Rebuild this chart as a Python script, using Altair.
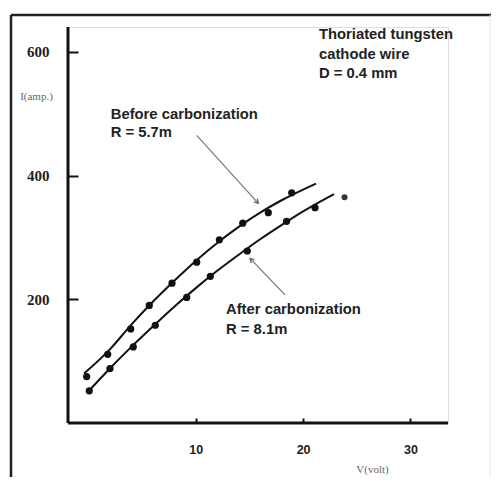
import altair as alt
import pandas as pd

# ---- data ----
before_v = [-0.16, 1.80, 3.94, 5.67, 7.79, 10.09, 12.2, 14.38, 16.76, 18.94]
before_i = [75, 111, 152, 190, 226, 260, 296, 323, 340, 372]
after_v = [0.08, 2.01, 4.18, 6.23, 9.16, 11.36, 14.8, 18.46, 21.11]
after_i = [52, 88, 123, 158, 203, 237, 278, 326, 348]
extra_v = [23.86]
extra_i = [365]

before_fit_v = [-0.4, 2, 4, 6, 8, 10, 12, 14, 16, 18, 21.2]
before_fit_i = [80, 119, 159, 196, 230, 262, 291, 317, 340, 360, 387]
after_fit_v = [-0.16, 2, 4, 6, 8, 10, 12, 14, 16, 18, 20, 22.88]
after_fit_i = [48, 88, 123, 156, 188, 218, 246, 272, 297, 320, 342, 370]

x_ticks = [10, 20, 30]
y_ticks = [200, 400, 600]
x_domain = [-1.9, 33.5]
y_domain = [0, 640]

notes = [
    "Before carbonization", "R = 5.7m",
    "After carbonization", "R = 8.1m",
    "Thoriated tungsten", "cathode wire", "D = 0.4 mm",
]
notes_v = [2.08, 2.08, 12.82, 12.82, 21.48, 21.48, 21.48]
notes_i = [498, 469, 183, 150, 627, 595, 564]

arrow_v = [10.09, 18.32]
arrow_i = [465, 207]
arrow_tip_v = [15.83, 15.06]
arrow_tip_i = [355, 266]
arrow_angle = [138, 316]

# ---- tables ----
pts = pd.DataFrame({
    "V": before_v + after_v,
    "I": before_i + after_i,
    "s": ["before"] * len(before_v) + ["after"] * len(after_v),
})
fit = pd.DataFrame({
    "V": before_fit_v + after_fit_v,
    "I": before_fit_i + after_fit_i,
    "s": ["before"] * len(before_fit_v) + ["after"] * len(after_fit_v),
})
extra = pd.DataFrame({"V": extra_v, "I": extra_i})
txt = pd.DataFrame({"V": notes_v, "I": notes_i, "t": notes})
arr = pd.DataFrame({"V": arrow_v, "I": arrow_i, "V2": arrow_tip_v,
                    "I2": arrow_tip_i, "a": arrow_angle})

xs = alt.Scale(domain=x_domain, nice=False, zero=False)
ys = alt.Scale(domain=y_domain, nice=False, zero=False)

x_axis = alt.Axis(
    values=x_ticks, domain=False, grid=False, offset=-5, tickSize=5,
    tickWidth=2, tickColor="#111", labelPadding=20,
    labelFont="Liberation Sans", labelFontWeight="bold", labelFontSize=12.5,
    labelColor="#222", title="V(volt)", titleFont="Liberation Serif",
    titleFontWeight="normal", titleFontSize=11, titleColor="#666",
    titleX=304, titleY=51, titleAlign="center", titleBaseline="middle",
)
y_axis = alt.Axis(
    values=y_ticks, domain=False, grid=False, offset=-10, tickSize=10,
    tickWidth=2, tickColor="#111", labelPadding=19,
    labelFont="Liberation Serif", labelFontWeight="bold", labelFontSize=15,
    labelColor="#222", title="I(amp.)", titleFont="Liberation Serif",
    titleFontWeight="normal", titleFontSize=11, titleColor="#666",
    titleAngle=0, titleX=-42, titleY=69, titleAlign="center",
    titleBaseline="middle",
)

lines = alt.Chart(fit).mark_line(
    color="#111", strokeWidth=2, interpolate="monotone"
).encode(
    x=alt.X("V:Q", scale=xs, axis=x_axis),
    y=alt.Y("I:Q", scale=ys, axis=y_axis),
    detail="s:N",
)
points = alt.Chart(pts).mark_point(
    filled=True, shape="circle", size=52, color="#111", opacity=1
).encode(x=alt.X("V:Q", scale=xs), y=alt.Y("I:Q", scale=ys))
extra_pt = alt.Chart(extra).mark_point(
    filled=True, shape="circle", size=36, color="#333", opacity=1
).encode(x=alt.X("V:Q", scale=xs), y=alt.Y("I:Q", scale=ys))

texts = alt.Chart(txt).mark_text(
    align="left", baseline="middle", font="Liberation Sans",
    fontWeight="bold", fontSize=14.8, color="#222"
).encode(x=alt.X("V:Q", scale=xs), y=alt.Y("I:Q", scale=ys), text="t:N")

arrow_lines = alt.Chart(arr).mark_rule(color="#777", strokeWidth=1.2).encode(
    x=alt.X("V:Q", scale=xs), y=alt.Y("I:Q", scale=ys), x2="V2:Q", y2="I2:Q"
)
arrow_heads = alt.Chart(arr).mark_point(
    shape="M-0.55,1 L0,0 L0.55,1", filled=False, size=70,
    color="#666", strokeWidth=1.3, opacity=1
).encode(
    x=alt.X("V2:Q", scale=xs), y=alt.Y("I2:Q", scale=ys),
    angle=alt.Angle("a:Q", scale=None),
)

# axis lines drawn at the scale's origin values
y_line = alt.Chart(pd.DataFrame({"V": [x_domain[0]]})).mark_rule(
    color="#111", strokeWidth=3
).encode(x=alt.X("V:Q", scale=xs))
x_line = alt.Chart(pd.DataFrame({"I": [y_domain[0]]})).mark_rule(
    color="#111", strokeWidth=3
).encode(y=alt.Y("I:Q", scale=ys))

# outer frame (decoration)
frame_top = alt.Chart(pd.DataFrame({"k": [0]})).mark_rule(
    color="#222", strokeWidth=2.5
).encode(x=alt.value(-57), x2=alt.value(430), y=alt.value(-12))
frame_left = alt.Chart(pd.DataFrame({"k": [0]})).mark_rule(
    color="#222", strokeWidth=2.5
).encode(x=alt.value(-57), y=alt.value(-12), y2=alt.value(460))
frame_right = alt.Chart(pd.DataFrame({"k": [0]})).mark_rule(
    color="#e4e4e4", strokeWidth=1
).encode(x=alt.value(422), y=alt.value(-12), y2=alt.value(460))

chart = alt.layer(
    frame_top, frame_left, frame_right,
    lines, points, extra_pt, arrow_lines, arrow_heads, texts,
    y_line, x_line,
).properties(
    width=380, height=396,
    padding={"left": 60, "top": 19, "right": 43, "bottom": 54},
    autosize=alt.AutoSizeParams(type="none"),
).configure_view(stroke=None).configure(background="white")

chart.save("out.html", embed_options={"renderer": "svg", "actions": False})
